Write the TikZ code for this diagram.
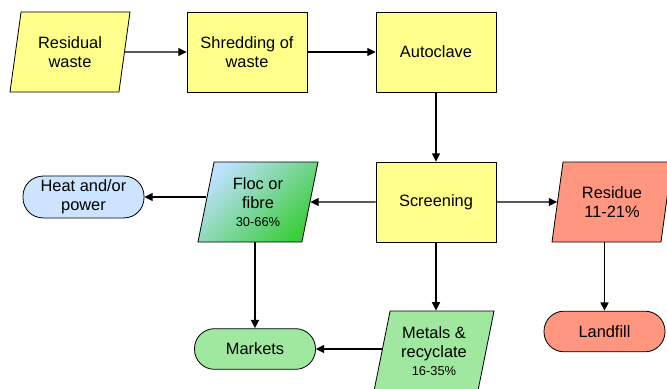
\documentclass[tikz,border=0pt]{standalone}
\usepackage{fontspec}
\setmainfont{Liberation Sans}
\usepackage{xcolor}
\usetikzlibrary{shapes.geometric,arrows.meta}
\definecolor{procyellow}{RGB}{255, 255, 140}
\definecolor{heatblue}{RGB}{204, 228, 255}
\definecolor{flocblue}{RGB}{190, 225, 255}
\definecolor{flocgreen}{RGB}{60, 205, 60}
\definecolor{marketgreen}{RGB}{160, 232, 160}
\definecolor{residuered}{RGB}{255, 150, 128}

\tikzset{
  process/.style={draw, fill=procyellow, minimum width=3.6cm, minimum height=2.4cm, align=center, line width=0.7pt},
  data/.style={draw, trapezium, trapezium left angle=74, trapezium right angle=106, trapezium stretches body, minimum width=3.6cm, minimum height=2.4cm, align=center, line width=0.7pt},
  terminal/.style={draw, rounded corners=0.6cm, minimum width=3.63cm, minimum height=1.22cm, align=center, line width=0.7pt},
  flow/.style={line width=1.2pt, -{Triangle[length=2.5mm, width=2.4mm]}}
}

\begin{document}
\begin{tikzpicture}[x=0.03cm, y=-0.03cm, font=\fontsize{14pt}{16pt}\selectfont]
        \useasboundingbox (0,0) rectangle (667,388);

        % Top row
        \node[data, fill=procyellow] (residual) at (70,52) {Residual\\waste};
        \node[process] (shred) at (247,52) {Shredding of\\waste};
        \node[process] (autoclave) at (436,52) {Autoclave};

        % Middle row
        \node[process] (screen) at (436,202) {Screening};
        \node[data, top color=flocblue, bottom color=flocgreen, shading angle=45] (floc) at (258,202) {Floc or\\fibre\\[-1pt]{\fontsize{11pt}{13pt}\selectfont 30-66\%}};
        \node[terminal, fill=heatblue] (heat) at (83.5,197) {Heat and/or\\power};
        \node[data, fill=residuered] (residue) at (612,202) {Residue\\11-21\%};

        % Bottom row
        \node[data, fill=marketgreen] (metals) at (434,351) {Metals \&\\recyclate\\[-1pt]{\fontsize{11pt}{13pt}\selectfont 16-35\%}};
        \node[terminal, fill=marketgreen] (markets) at (255,349) {Markets};
        \node[terminal, fill=residuered] (landfill) at (604.5,331.5) {Landfill};

        % Arrows
        \draw[flow] (residual) -- (shred);
        \draw[flow] (shred) -- (autoclave);
        \draw[flow] (autoclave) -- (screen);
        \draw[flow] (screen) -- (floc);
        \draw[flow] (screen) -- (residue);
        \draw[flow] (screen) -- (screen |- metals.north);
        \draw[flow] (heat -| floc.west) -- (heat);
        \draw[flow] (floc.south -| markets.north) -- (markets);
        \draw[flow] (markets -| metals.west) -- (markets);
        \draw[flow] (residue.south -| landfill.north) -- (landfill);
\end{tikzpicture}
\end{document}
